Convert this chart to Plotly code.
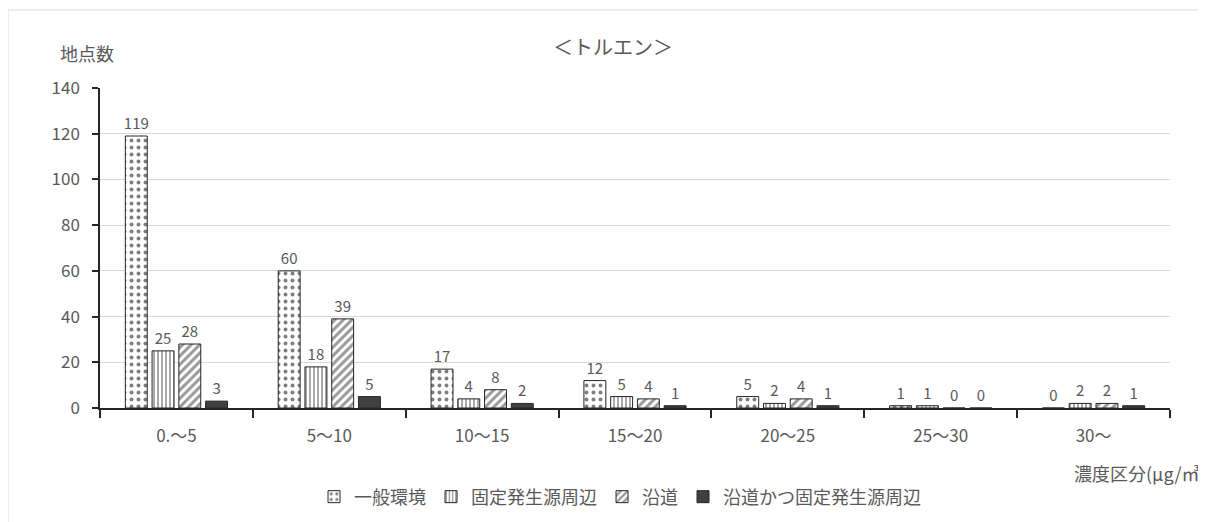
import plotly.graph_objects as go

categories = ["0.～5", "5～10", "10～15", "15～20", "20～25", "25～30", "30～"]
series_names = ["一般環境", "固定発生源周辺", "沿道", "沿道かつ固定発生源周辺"]
general = [119, 60, 17, 12, 5, 1, 0]
fixed_source = [25, 18, 4, 5, 2, 1, 2]
roadside = [28, 39, 8, 4, 4, 0, 2]
roadside_fixed = [3, 5, 2, 1, 1, 0, 1]
y_ticks = [0, 20, 40, 60, 80, 100, 120, 140]

FONT = "Noto Sans CJK JP"
GRAY = "#595959"

patterns = [
    dict(shape=".", fgcolor="#000000", bgcolor="white", size=7, solidity=0.25),
    dict(shape="|", fgcolor="#404040", bgcolor="white", size=4, solidity=0.45),
    dict(shape="/", fgcolor="#333333", bgcolor="white", size=6, solidity=0.5),
    dict(shape="", fgcolor="#404040", bgcolor="#404040"),
]
colors = ["white", "white", "white", "#404040"]

fig = go.Figure()
for name, vals, pat, col in zip(series_names,
                                [general, fixed_source, roadside, roadside_fixed],
                                patterns, colors):
    fig.add_trace(go.Bar(
        x=categories, y=vals, name=name,
        marker=dict(color=col, pattern=pat, line=dict(color="#262626", width=1)),
        text=vals, textposition="outside", cliponaxis=False, constraintext="none",
        textfont=dict(family=FONT, size=15, color=GRAY),
    ))

# the page adds an 8px body margin, so margins are shifted by 8px
fig.update_layout(
    width=1206, height=522,
    margin=dict(l=92, r=44, t=80, b=122),
    plot_bgcolor="white", paper_bgcolor="white",
    font=dict(family=FONT, size=16, color=GRAY),
    barmode="group", bargap=0.3, bargroupgap=0.18,
    showlegend=True,
    legend=dict(orientation="h", x=0.486, xanchor="center", y=-0.278, yanchor="middle",
                itemwidth=30, font=dict(family=FONT, size=18, color=GRAY)),
    xaxis=dict(showline=True, linecolor="#262626", linewidth=1.5,
               ticks="outside", tickson="boundaries", ticklen=8, tickwidth=1.5,
               tickcolor="#262626", showgrid=False, ticklabelstandoff=12,
               tickfont=dict(family=FONT, size=17, color=GRAY)),
    yaxis=dict(range=[0, 140], tickvals=y_ticks, showline=True, linecolor="#262626",
               linewidth=1.5, ticks="outside", ticklen=6, tickwidth=1.5,
               tickcolor="#262626", gridcolor="#d9d9d9", gridwidth=1,
               zeroline=False, ticklabelstandoff=9,
               tickfont=dict(family=FONT, size=17, color=GRAY)),
    annotations=[
        dict(text="＜トルエン＞", xref="paper", yref="paper", x=0.479, y=1.131,
             xanchor="center", yanchor="middle", showarrow=False,
             font=dict(family=FONT, size=20, color=GRAY)),
        dict(text="地点数", xref="paper", yref="paper", x=-0.012, y=1.109,
             xanchor="center", yanchor="middle", showarrow=False,
             font=dict(family=FONT, size=18, color=GRAY)),
        dict(text="濃度区分(μg/㎥", xref="paper", yref="paper", x=0.9084, y=-0.203,
             xanchor="left", yanchor="middle", showarrow=False,
             font=dict(family=FONT, size=18, color=GRAY)),
    ],
    shapes=[
        dict(type="rect", xref="paper", yref="paper", x0=-0.086, x1=1.06,
             y0=-0.4, y1=1.244, line=dict(color="#d9d9d9", width=1), layer="below"),
    ],
)

fig.write_html("out.html")
